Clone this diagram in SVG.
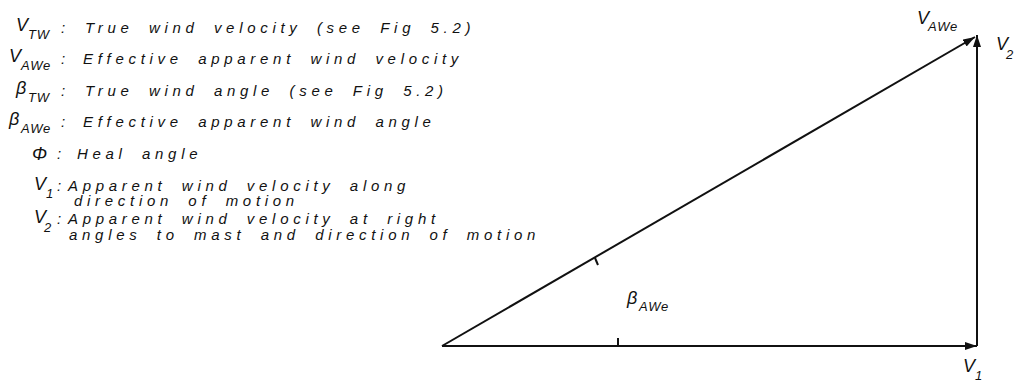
<svg xmlns="http://www.w3.org/2000/svg" width="1016" height="381" viewBox="0 0 1016 381">
<style>
.t{font-family:"Liberation Sans",Arial,sans-serif;font-style:italic;font-size:15px;fill:#111;letter-spacing:4.7px;word-spacing:6.5px}
.s{font-family:"Liberation Sans",Arial,sans-serif;font-style:italic;font-size:18px;fill:#111}
.sub{font-family:"Liberation Sans",Arial,sans-serif;font-style:italic;font-size:13px;fill:#111;letter-spacing:0.8px}
.ln{stroke:#111;stroke-width:2;fill:none}
</style>
<defs>
<marker id="ah" viewBox="0 0 12 8" refX="12" refY="4" markerWidth="12" markerHeight="8" markerUnits="userSpaceOnUse" orient="auto">
<path d="M0,0 L12,4 L0,8 Z" fill="#111"/>
</marker>
</defs>
<g id="legend">
<text class="s" x="16" y="31">V</text><text class="sub" x="28" y="39">TW</text><text class="t" x="61" y="33">:</text><text class="t" x="85" y="33">True wind velocity (see Fig 5.2)</text>
<text class="s" x="9" y="62">V</text><text class="sub" x="21" y="70">AWe</text><text class="t" x="61" y="64">:</text><text class="t" x="83" y="64">Effective apparent wind velocity</text>
<text class="s" x="16" y="94">β</text><text class="sub" x="28" y="102">TW</text><text class="t" x="61" y="96">:</text><text class="t" x="85" y="96">True wind angle (see Fig 5.2)</text>
<text class="s" x="9" y="125">β</text><text class="sub" x="21" y="133">AWe</text><text class="t" x="61" y="127">:</text><text class="t" x="83" y="127">Effective apparent wind angle</text>
<text class="s" x="32" y="160">Φ</text><text class="t" x="57" y="159">:</text><text class="t" x="77" y="159">Heal angle</text>
<text class="s" x="34" y="190">V</text><text class="sub" x="46" y="198">1</text><text class="t" x="57" y="191">:</text><text class="t" x="68" y="191">Apparent wind velocity along</text>
<text class="t" x="74" y="206">direction of motion</text>
<text class="s" x="34" y="223">V</text><text class="sub" x="44" y="232">2</text><text class="t" x="57" y="224">:</text><text class="t" x="68" y="224">Apparent wind velocity at right</text>
<text class="t" x="69" y="240">angles to mast and direction of motion</text>
</g>
<g id="connectors">
<line id="v1" class="ln" x1="442" y1="346" x2="977" y2="346" marker-end="url(#ah)"/>
<line id="v2" class="ln" x1="977" y1="346" x2="977" y2="35" marker-end="url(#ah)"/>
<line id="vawe" class="ln" x1="442" y1="346" x2="975" y2="37" marker-end="url(#ah)"/>
<line class="ln" stroke-width="1.5" x1="595" y1="258" x2="598" y2="265"/>
<line class="ln" stroke-width="1.5" x1="618" y1="338" x2="618" y2="345"/>
</g>
<g id="labels">
<text class="s" x="917" y="24">V</text><text class="sub" x="928" y="31">AWe</text>
<text class="s" x="996" y="50">V</text><text class="sub" x="1006" y="59">2</text>
<text class="s" x="627" y="304">β</text><text class="sub" x="639" y="311">AWe</text>
<text class="s" x="963" y="372">V</text><text class="sub" x="975" y="380">1</text>
</g>
</svg>
